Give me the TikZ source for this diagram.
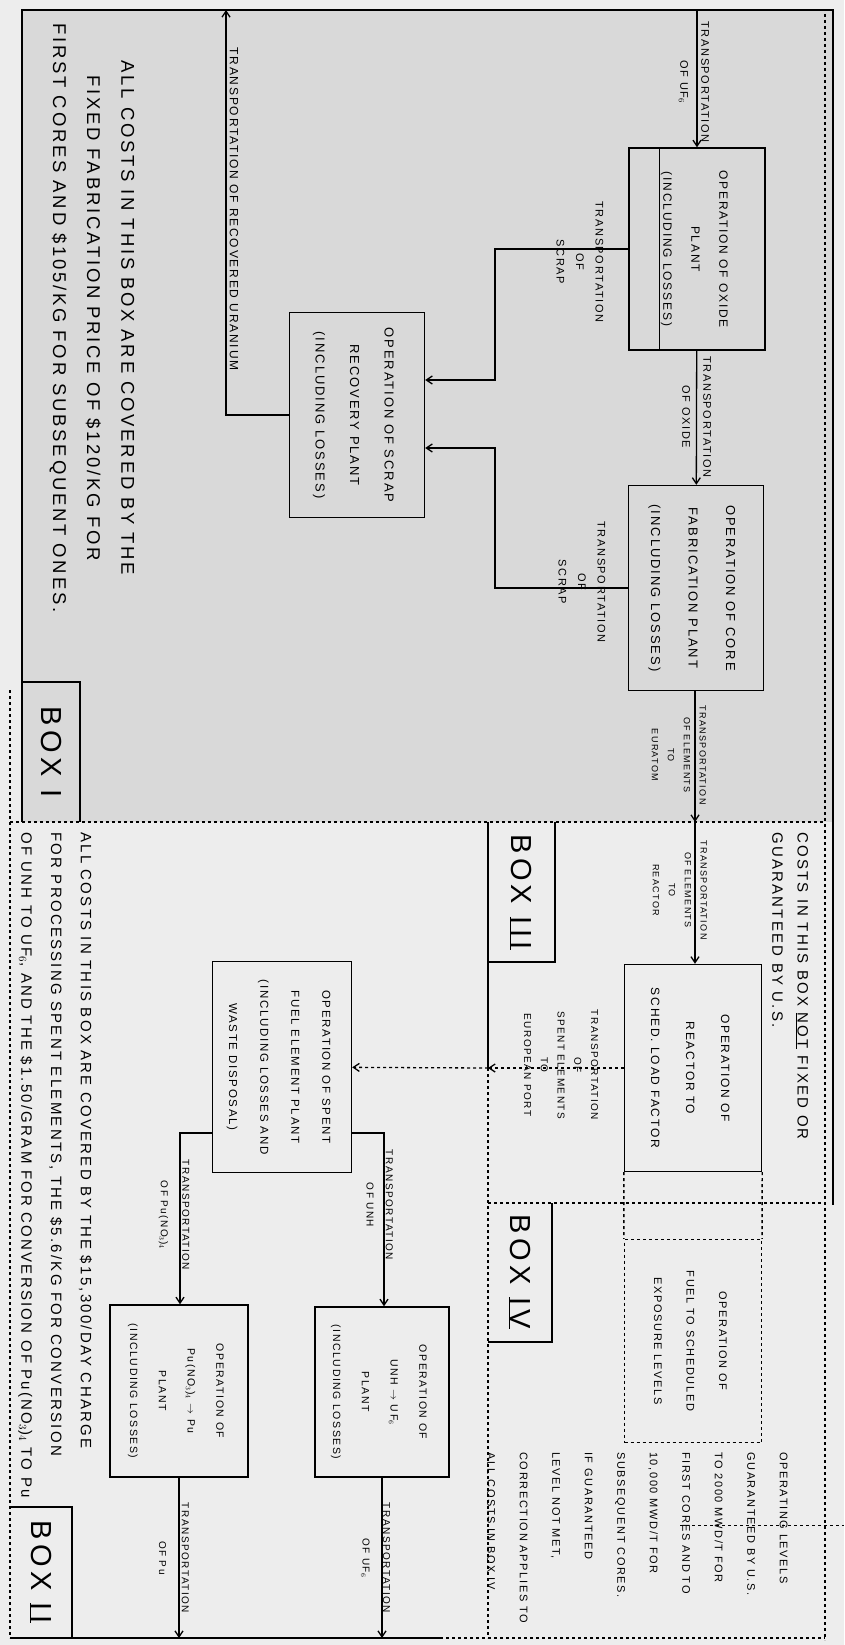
\documentclass[tikz,border=0pt]{standalone}
\usepackage{fontspec}
\setmainfont{Liberation Sans}[LetterSpace=15]
\usetikzlibrary{arrows.meta,calc}
% text written sideways, read from top to bottom
\newcommand{\vtext}[2][1.5]{\rotatebox{-90}{\renewcommand{\arraystretch}{#1}\begin{tabular}{@{}c@{}}#2\end{tabular}}}
\newcommand{\vnote}[2][1.5]{\rotatebox{-90}{\renewcommand{\arraystretch}{#1}\begin{tabular}{@{}l@{}}#2\end{tabular}}}

\begin{document}
\begin{tikzpicture}[x=1pt,y=-1pt,>={Straight Barb[length=6pt,width=8pt]}]
    \tikzstyle{plant} = [draw,line width=1.4pt,inner sep=0pt,font=\fontsize{12}{14}\selectfont]
    \tikzstyle{stage} = [draw,dashed,line width=1.2pt,inner sep=0pt,font=\fontsize{11}{13}\selectfont]
    \tikzstyle{flow} = [->,line width=1.3pt]
    \tikzstyle{tag} = [inner sep=0pt,font=\fontsize{10}{12}\selectfont]
    \tikzstyle{boxname} = [inner sep=0pt,font=\fontsize{29}{33}\selectfont]
    \tikzstyle{frame} = [line width=1.4pt]
    \useasboundingbox (0,0) rectangle (844,1645);
    \fill[black!7] (0,0) rectangle (844,1645);
    \fill[black!15] (22,10) rectangle (833,822);
    % frames of the four boxes
    \draw[frame,line width=2.4pt] (22,822) -- (22,10) -- (833,10) -- (833,1205);
    \draw[frame,dashed] (825,14) -- (825,1640);
    \draw[frame,dashed] (10,690) -- (10,1638);
    \draw[frame] (10,1638) -- (440,1638);
    \draw[frame,dashed] (440,1638) -- (825,1638);
    \draw[frame,dashed] (10,822) -- (825,822);
    \draw[frame] (488,822) -- (488,1068);
    \draw[frame,dashed] (488,1068) -- (488,1638);
    \draw[frame,dashed] (488,1203) -- (825,1203);
    \draw[thin,dashed] (680,1525) -- (844,1525);
    \draw[frame] (22,682) -| (80,822);
    \draw[frame] (555,822) |- (488,962);
    \draw[frame] (552,1203) |- (488,1342);
    \draw[frame] (10,1507) -| (72,1638);
      \node[boxname] (boxone) at (51,752) {\vtext{BOX I}};
      \node[boxname] (boxthree) at (521,892) {\vtext{BOX \underline{III}}};
      \node[boxname] (boxfour) at (520,1272) {\vtext{BOX \underline{IV}}};
      \node[boxname] (boxtwo) at (41,1572) {\vtext{BOX \underline{II}}};
    % notes
      \node[inner sep=0pt,font=\fontsize{18.5}{22}\selectfont] (fixednote) at (94,318) {\vtext[1.55]{ALL COSTS IN THIS BOX ARE COVERED BY THE\\FIXED FABRICATION PRICE OF \$120/KG FOR\\FIRST CORES AND \$105/KG FOR SUBSEQUENT ONES.}};
      \node[inner sep=0pt,anchor=north,font=\fontsize{15}{18}\selectfont] (usnote) at (790,832) {\vnote[1.4]{COSTS IN THIS BOX \underline{NOT} FIXED OR\\GUARANTEED BY U.S.}};
      \node[inner sep=0pt,anchor=north,font=\fontsize{11}{13}\selectfont] (levelnote) at (640,1452) {\vnote[2.5]{OPERATING LEVELS\\GUARANTEED BY U.S.\\TO 2000 MWD/T FOR\\FIRST CORES AND TO\\10,000 MWD/T FOR\\SUBSEQUENT CORES.\\IF GUARANTEED\\LEVEL NOT MET,\\CORRECTION APPLIES TO\\ALL COSTS IN BOX IV}};
      \node[inner sep=0pt,anchor=north,font=\fontsize{15}{18}\selectfont] (chargenote) at (57,832) {\vnote[1.65]{ALL COSTS IN THIS BOX ARE COVERED BY THE \$15,300/DAY CHARGE\\FOR PROCESSING SPENT ELEMENTS, THE \$5.6/KG FOR CONVERSION\\OF UNH TO UF$_6$, AND THE \$1.50/GRAM FOR CONVERSION OF Pu(NO$_3$)$_4$ TO Pu}};
    % plants
      \node[plant,minimum width=136pt,minimum height=202pt] (oxide) at (697,249) {\vtext[2]{OPERATION OF OXIDE\\PLANT\\(INCLUDING LOSSES)}};
      \draw[line width=1.2pt] ([xshift=31pt]oxide.north west) -- ([xshift=31pt]oxide.south west);
      \node[plant,minimum width=135pt,minimum height=205pt,font=\fontsize{13}{15}\selectfont] (fab) at (696,588) {\vtext[2.5]{OPERATION OF CORE\\FABRICATION PLANT\\(INCLUDING LOSSES)}};
      \node[plant,minimum width=135pt,minimum height=205pt,font=\fontsize{13}{15}\selectfont] (scrap) at (357,415) {\vtext[2.3]{OPERATION OF SCRAP\\RECOVERY PLANT\\(INCLUDING LOSSES)}};
      \node[plant,minimum width=137pt,minimum height=207pt] (reactor) at (693,1068) {\vtext[2.5]{OPERATION OF\\REACTOR TO\\SCHED. LOAD FACTOR}};
      \node[stage,minimum width=137pt,minimum height=203pt] (fuel) at (693,1341) {\vtext[2.5]{OPERATION OF\\FUEL TO SCHEDULED\\EXPOSURE LEVELS}};
      \draw[frame,dashed] (reactor.south west) -- (fuel.north west);
      \draw[frame,dashed] (reactor.south east) -- (fuel.north east);
      \node[plant,minimum width=139pt,minimum height=211pt,font=\fontsize{11.5}{13.5}\selectfont] (spent) at (282,1067) {\vtext[2.3]{OPERATION OF SPENT\\FUEL ELEMENT PLANT\\(INCLUDING LOSSES AND\\WASTE DISPOSAL)}};
      \node[plant,minimum width=138pt,minimum height=172pt,font=\fontsize{10.5}{12.5}\selectfont] (pu) at (179,1391) {\vtext[2.3]{OPERATION OF\\Pu(NO$_3$)$_4$ $\rightarrow$ Pu\\PLANT\\(INCLUDING LOSSES)}};
      \node[plant,minimum width=134pt,minimum height=170pt,font=\fontsize{10.5}{12.5}\selectfont] (unh) at (382,1392) {\vtext[2.3]{OPERATION OF\\UNH $\rightarrow$ UF$_6$\\PLANT\\(INCLUDING LOSSES)}};
    % end points and turns
      \coordinate (ufin) at (697,10);
      \coordinate (recov) at (226,10);
      \coordinate (scraptop) at (495,380);
      \coordinate (scrapbot) at (495,448);
      \coordinate (euratom) at (695,822);
      \coordinate (port) at (488,1068);
      \coordinate (puturn) at (180,1133);
      \coordinate (unhturn) at (384,1133);
      \coordinate (puout) at (179,1638);
      \coordinate (ufout) at (382,1638);
    % flows
      \draw[flow] (ufin) -- (oxide);
      \draw[flow] (oxide) -- (fab);
      \draw[flow] (oxide.west) -| (scraptop) -- (scraptop -| scrap.east);
      \draw[flow] (fab.west) -| (scrapbot) -- (scrapbot -| scrap.east);
      \draw[flow] (scrap.west) -| (recov);
      \draw[flow] (fab.south -| euratom) -- (euratom);
      \draw[flow] (euratom) -- (euratom |- reactor.north);
      \draw[flow,dashed] (reactor.west) -- (port);
      \draw[flow,dashed] (port) -- (spent);
      \draw[flow] (spent.west |- puturn) -- (puturn) -- (puturn |- pu.north);
      \draw[flow] (spent.east |- unhturn) -- (unhturn) -- (unhturn |- unh.north);
      \draw[flow] (pu) -- (puout);
      \draw[flow] (unh) -- (ufout);
    % flow labels
      \node[tag,font=\fontsize{11}{13}\selectfont] (ufinlabel) at (695,82) {\vtext[1.6]{TRANSPORTATION\\OF UF$_6$}};
      \node[tag,font=\fontsize{11}{13}\selectfont] (oxidelabel) at (697,417) {\vtext[1.6]{TRANSPORTATION\\OF OXIDE}};
      \node[tag,font=\fontsize{11}{13}\selectfont] (scraptoplabel) at (580,262) {\vtext[1.5]{TRANSPORTATION\\OF\\SCRAP}};
      \node[tag,font=\fontsize{11}{13}\selectfont] (scrapbotlabel) at (582,582) {\vtext[1.5]{TRANSPORTATION\\OF\\SCRAP}};
      \node[tag,font=\fontsize{12}{14}\selectfont] (recovlabel) at (234,209) {\vtext{TRANSPORTATION OF RECOVERED URANIUM}};
      \node[tag,font=\fontsize{9}{11}\selectfont] (euratomlabel) at (679,755) {\vtext[1.45]{TRANSPORTATION\\OF ELEMENTS\\TO\\EURATOM}};
      \node[tag,font=\fontsize{9}{11}\selectfont] (reactorlabel) at (680,890) {\vtext[1.45]{TRANSPORTATION\\OF ELEMENTS\\TO\\REACTOR}};
      \node[tag] (portlabel) at (561,1065) {\vtext[1.4]{TRANSPORTATION\\OF\\SPENT ELEMENTS\\TO\\EUROPEAN PORT}};
      \node[tag] (pulabel) at (176,1215) {\vtext[1.8]{TRANSPORTATION\\OF Pu(NO$_3$)$_4$}};
      \node[tag] (unhlabel) at (380,1205) {\vtext[1.6]{TRANSPORTATION\\OF UNH}};
      \node[tag] (puoutlabel) at (175,1558) {\vtext[1.9]{TRANSPORTATION\\OF Pu}};
      \node[tag] (ufoutlabel) at (377,1558) {\vtext[1.7]{TRANSPORTATION\\OF UF$_6$}};
\end{tikzpicture}
\end{document}
